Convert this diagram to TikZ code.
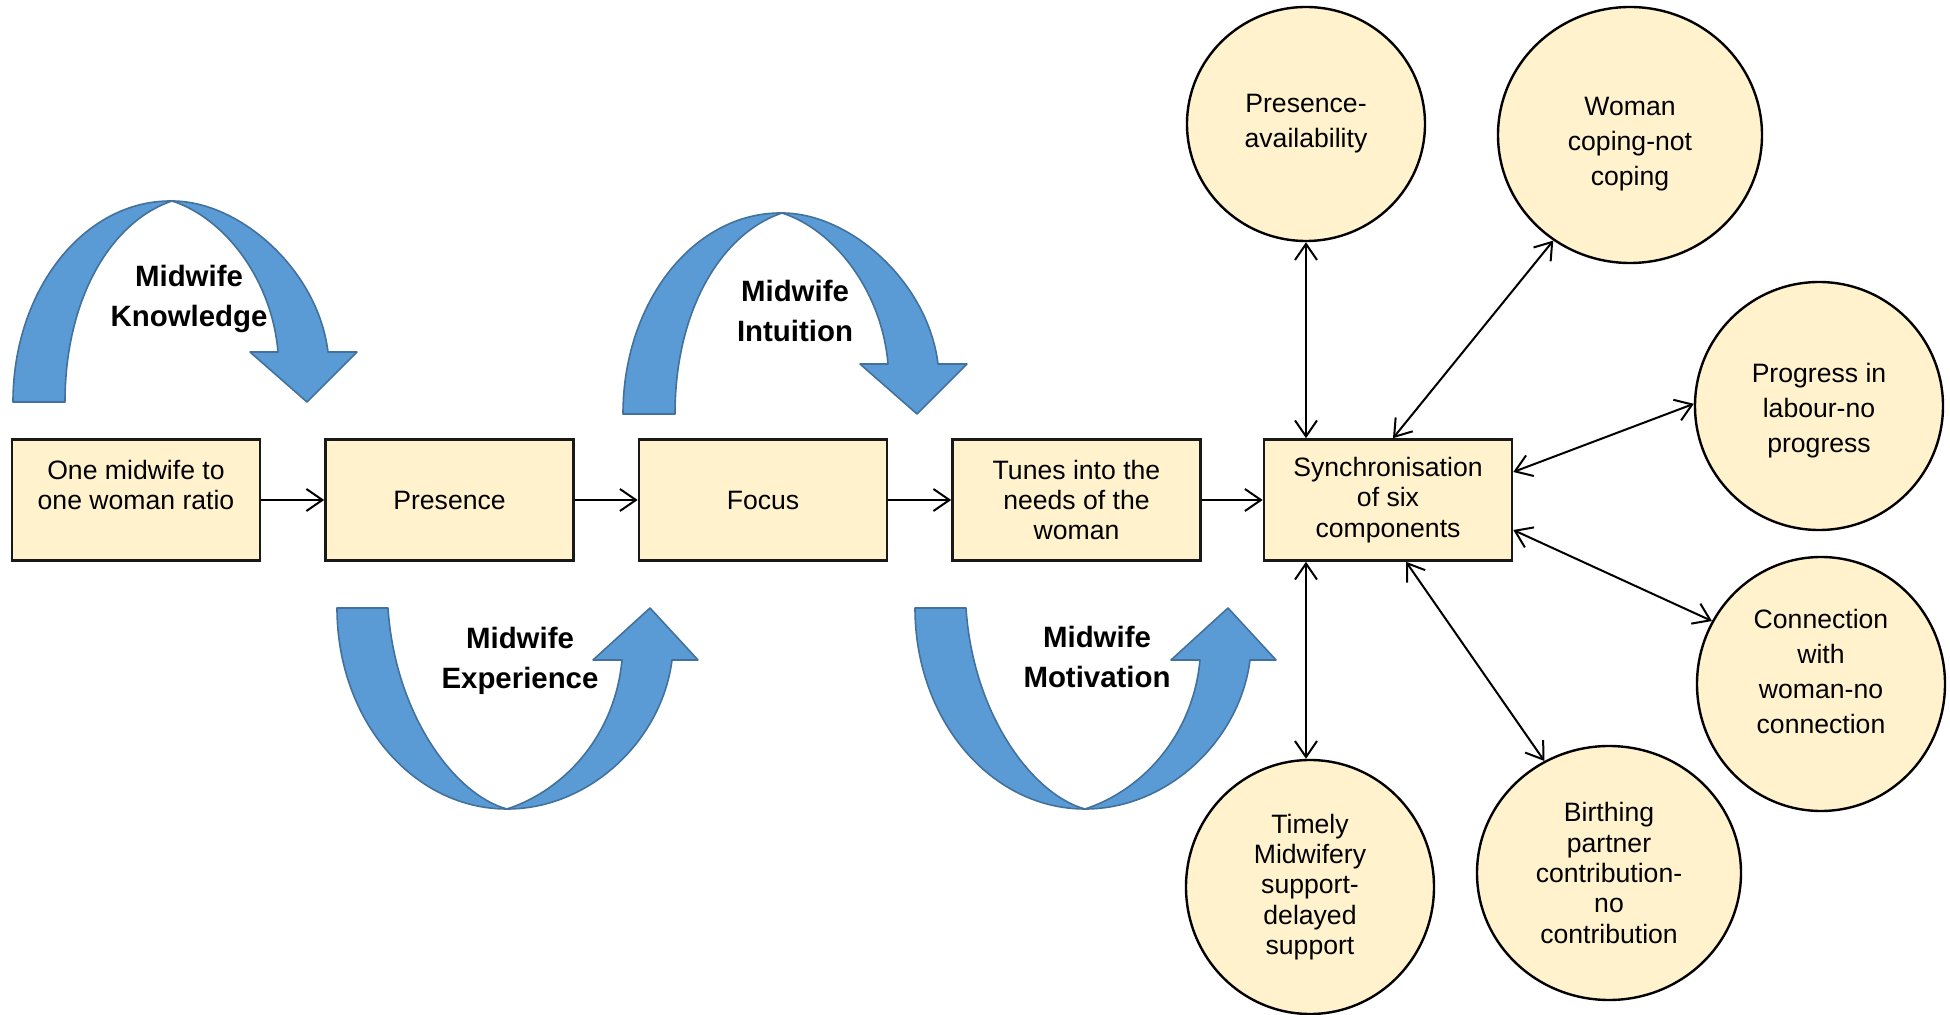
\documentclass[tikz,border=0pt]{standalone}
\usepackage{fontspec}
\setmainfont{Liberation Sans}
\usetikzlibrary{arrows.meta,shapes.geometric}
\definecolor{boxfill}{HTML}{FFF2CC}
\definecolor{arrfill}{HTML}{5B9BD5}
\definecolor{arrline}{HTML}{41719C}
\newcommand{\midArcDown}{%
  \path[curvedarrow] (13,402) .. controls (13,290) and (84,200) .. (172,201)
     .. controls (110,222) and (65,300) .. (65,402) -- cycle;
  \path[curvedarrow] (172,201) .. controls (240,201) and (318,270) .. (328,352)
     -- (357,352) -- (307,402) -- (250,352) -- (278,352)
     .. controls (272,280) and (225,218) .. (172,201) -- cycle;}
\newcommand{\midArcUp}{%
  \path[curvedarrow] (337,608) .. controls (337,720) and (413,809) .. (507,809)
     .. controls (455,795) and (395,715) .. (388,608) -- cycle;
  \path[curvedarrow] (507,809) .. controls (590,809) and (662,740) .. (672,660)
     -- (698,660) -- (650,608) -- (593,660) -- (622,660)
     .. controls (615,735) and (565,790) .. (507,809) -- cycle;}
\begin{document}
\begin{tikzpicture}[x=0.5pt,y=-0.5pt,
  stepbox/.style={draw=black!90, line width=1.3pt, fill=boxfill,
    minimum width=124pt, minimum height=60.5pt, align=center, inner sep=2pt,
    font=\fontsize{13.3}{15.2}\selectfont},
  comp/.style={ellipse, draw=black, line width=1.2pt, fill=boxfill,
    align=center, inner sep=0pt, font=\fontsize{13.3}{17.5}\selectfont},
  compb/.style={comp, font=\fontsize{13.3}{15.2}\selectfont},
  comptext/.style={align=center, inner sep=0pt, font=\fontsize{13.3}{17.5}\selectfont},
  conn/.style={line width=1pt, -{Straight Barb[length=8pt,width=11pt]}},
  bconn/.style={line width=1pt, {Straight Barb[length=8pt,width=11pt]}-{Straight Barb[length=8pt,width=11pt]}},
  curvedarrow/.style={fill=arrfill, draw=arrline, line width=0.8pt, line join=round},
  lbl/.style={font=\fontsize{14.7}{20}\selectfont\bfseries, align=center}]
\useasboundingbox (0,0) rectangle (1950,1015);

% curved block arrows
\midArcDown
\begin{scope}[shift={(610,12)}]\midArcDown\end{scope}
\midArcUp
\begin{scope}[shift={(578,0)}]\midArcUp\end{scope}

% labels on the curved arrows
\node[lbl] (lk) at (189,299) {Midwife\\Knowledge};
\node[lbl] (li) at (795,311) {Midwife\\Intuition};
\node[lbl] (le) at (520,661) {Midwife\\Experience};
\node[lbl] (lm) at (1097,657) {Midwife\\Motivation};

% chain of boxes
\node[stepbox] (b1) at (136,500) {One midwife to\\one woman ratio\\~};
\node[stepbox] (b2) at (449.5,500) {Presence};
\node[stepbox] (b3) at (763,500) {Focus};
\node[stepbox] (b4) at (1076.5,500) {Tunes into the\\needs of the\\woman};
\node[stepbox] (s) at (1388,500) {Synchronisation\\of six\\components};

\draw[conn] (b1) -- (b2);
\draw[conn] (b2) -- (b3);
\draw[conn] (b3) -- (b4);
\draw[conn] (b4) -- (s);

% six components
\node[comp, minimum width=119pt, minimum height=117pt] (c1) at (1306,124) {Presence-\\availability};
\node[comp, minimum width=132pt, minimum height=128pt] (c2) at (1630,135) {};
\node[comptext] (c2t) at ([yshift=-4.4pt]c2.center) {Woman\\coping-not\\coping};
\node[comp, minimum width=124pt, minimum height=124pt] (c3) at (1819,406) {};
\node[comptext] (c3t) at ([yshift=-2.5pt]c3.center) {Progress in\\labour-no\\progress};
\node[comp, minimum width=124pt, minimum height=127pt] (c4) at (1821,684) {};
\node[comptext] (c4t) at ([yshift=6.5pt]c4.center) {Connection\\with\\woman-no\\connection};
\node[compb, minimum width=132pt, minimum height=127pt] (c5) at (1609,873) {Birthing\\partner\\contribution-\\no\\contribution};
\node[compb, minimum width=124pt, minimum height=127pt] (c6) at (1310,887) {Timely\\Midwifery\\support-\\delayed\\support};

\draw[bconn] (s.north -| c1) -- (c1.south);
\draw[bconn] ([xshift=2.5pt]s.north) -- (c2.234);
\draw[bconn] ([yshift=14pt]s.east) -- (c3.179);
\draw[bconn] ([yshift=-15pt]s.east) -- (c4.150);
\draw[bconn] ([xshift=9pt]s.south) -- (c5.120);
\draw[bconn] (s.south -| c1) -- (c1.south |- c6.north);
\end{tikzpicture}
\end{document}
